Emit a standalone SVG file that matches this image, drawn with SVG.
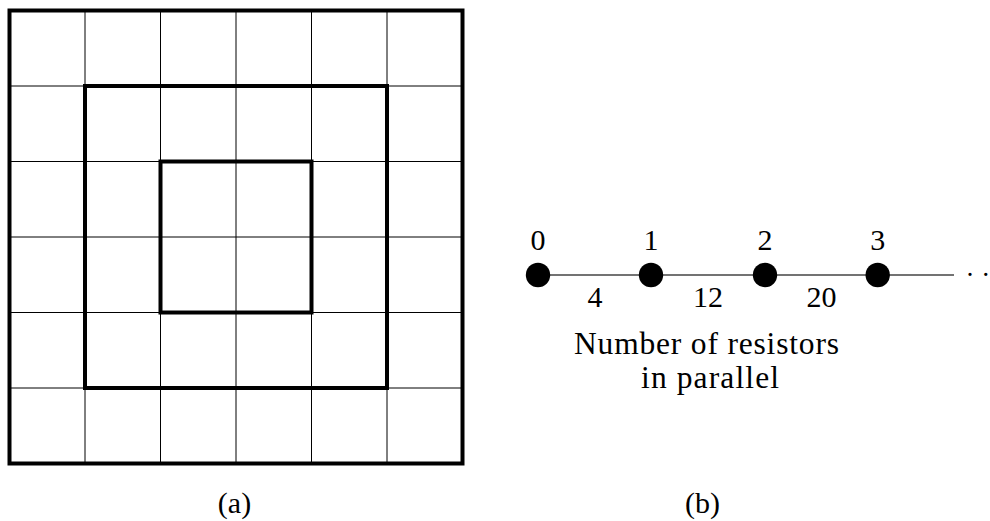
<svg xmlns="http://www.w3.org/2000/svg" width="990" height="521" viewBox="0 0 990 521">
<style>
.thin{fill:none;stroke:#000;stroke-width:1}
.thick{fill:none;stroke:#000;stroke-width:4}
.node{fill:#000}
.edge{stroke:#444;stroke-width:1.3;fill:none}
text{font-family:"Liberation Serif","Times New Roman",serif;font-size:30px;fill:#000;text-anchor:middle}
.cap{font-size:31.5px}
</style>
<rect width="990" height="521" fill="#fff"/>
<g id="grid">
<path class="thin" d="M85,10.5V463.5M160.5,10.5V463.5M236,10.5V463.5M311.5,10.5V463.5M387,10.5V463.5M9.5,86H462.5M9.5,161.5H462.5M9.5,237H462.5M9.5,312.5H462.5M9.5,388H462.5"/>
<rect id="outer" class="thick" x="9.5" y="10.5" width="453" height="453"/>
<rect id="middle" class="thick" x="85" y="86" width="302" height="302"/>
<rect id="inner" class="thick" x="160.5" y="161.5" width="151" height="151"/>
</g>
<g id="connectors">
<line class="edge" x1="538" y1="275" x2="954" y2="275"/>
</g>
<g id="n0"><circle class="node" cx="538" cy="275" r="12.2"/><text x="538" y="249.5">0</text></g>
<g id="n1"><circle class="node" cx="651" cy="275" r="12.2"/><text x="651" y="249.5">1</text></g>
<g id="n2"><circle class="node" cx="765" cy="275" r="12.2"/><text x="765" y="249.5">2</text></g>
<g id="n3"><circle class="node" cx="877.7" cy="275" r="12.2"/><text x="877.7" y="249.5">3</text></g>
<g id="labels">
<text x="595" y="306.5">4</text>
<text x="708" y="306.5">12</text>
<text x="821.5" y="306.5">20</text>
<text x="965.6" y="284" style="text-anchor:start;font-size:27px">· ·</text>
<text class="cap" x="706.5" y="354.3" textLength="265" lengthAdjust="spacing">Number of resistors</text>
<text class="cap" x="710" y="388.3" textLength="138" lengthAdjust="spacing">in parallel</text>
<text x="234.5" y="513">(a)</text>
<text x="702.5" y="513">(b)</text>
</g>
</svg>
